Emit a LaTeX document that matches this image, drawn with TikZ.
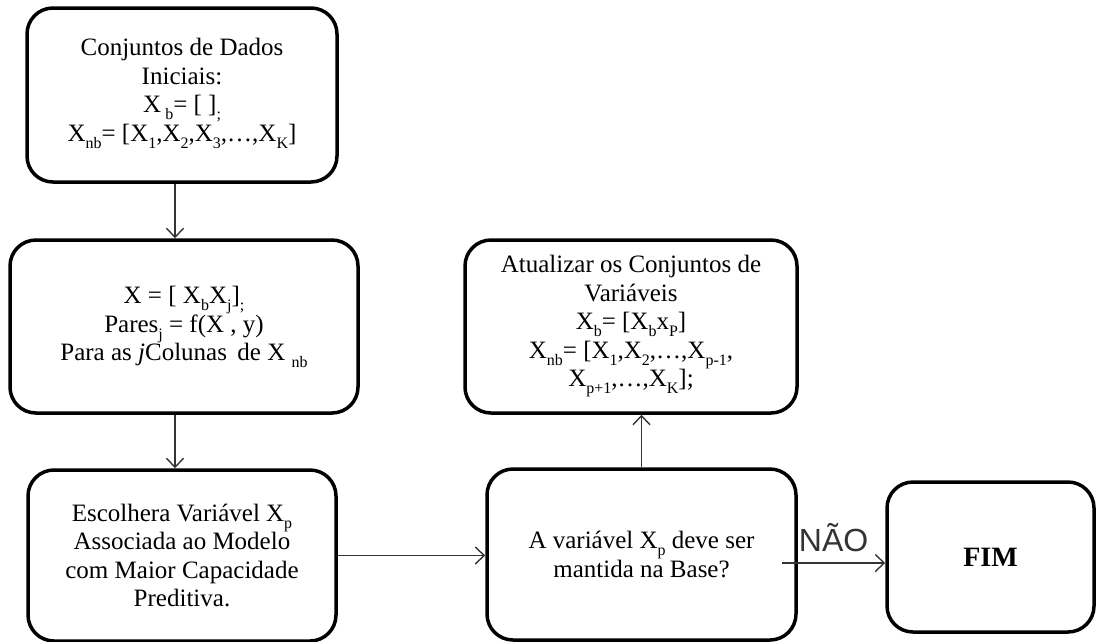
\documentclass[tikz,border=0pt]{standalone}
\usepackage{fontspec}
\setmainfont{Liberation Serif}
\newfontfamily\labelfont{Liberation Sans}
\usetikzlibrary{arrows.meta}

% lowered, smaller index text
\newcommand\sbs[1]{\raisebox{-0.28em}{\fontsize{16}{16}\selectfont #1}}

\tikzset{
  flowbox/.style={draw=black, line width=3.5pt, rounded corners=26pt,
    align=center, inner sep=0pt, font=\fontsize{25}{28.5}\selectfont},
  flowarrow/.style={draw=black!80, line width=1.4pt,
    -{Straight Barb[length=9pt,width=17pt,line width=1.4pt]}},
  answer/.style={font=\labelfont\fontsize{32}{32}\selectfont, text=black!80,
    inner sep=2pt}
}

\begin{document}
\begin{tikzpicture}[x=1pt,y=-1pt]
  \useasboundingbox (0,0) rectangle (1097,641);

  % left column
  \node[flowbox, minimum width=310pt, minimum height=174pt] (init) at (182,95)
    {Conjuntos de Dados\\Iniciais:\\X\,\sbs{b}= [ ]\sbs{;}\\
     X\sbs{nb}= [X\sbs{1},X\sbs{2},X\sbs{3},…,X\sbs{K}]\\[-18pt]\mbox{}};
  \node[flowbox, minimum width=348pt, minimum height=173pt] (pares) at (184,326.5)
    {\mbox{}\\[-10pt]X = [ X\sbs{b}X\sbs{j}]\sbs{;}\\Pares\sbs{j} = f(X , y)\\
     Para as \textit{j}Colunas\, de X \sbs{nb}};
  \node[flowbox, minimum width=308pt, minimum height=171pt] (choose) at (182,555.5)
    {Escolhera Variável X\sbs{p}\\Associada ao Modelo\\com Maior Capacidade\\Preditiva.};

  % right part
  \node[flowbox, minimum width=309pt, minimum height=171pt] (keep) at (641.5,554.5)
    {A variável X\sbs{p} deve ser\\mantida na Base?};
  \node[flowbox, minimum width=332pt, minimum height=173pt] (update) at (631,326.5)
    {Atualizar os Conjuntos de\\Variáveis\\X\sbs{b}= [X\sbs{b}x\sbs{P}]\\
     X\sbs{nb}= [X\sbs{1},X\sbs{2},…,X\sbs{p-1},\\X\sbs{p+1},…,X\sbs{K}];};
  \node[flowbox, minimum width=207pt, minimum height=150pt] (fim) at (990.5,557)
    {\fontsize{28}{28}\selectfont\textbf{FIM}};

  % connectors
  \coordinate (leftcol) at (175,0);
  \coordinate (nostart) at (782,563);
  \draw[flowarrow] (init.south -| leftcol) -- (pares.north -| leftcol);
  \draw[flowarrow] (pares.south -| leftcol) -- (choose.north -| leftcol);
  \draw[flowarrow] (choose.east) -- (choose.east -| keep.west);
  \draw[flowarrow] (keep.north) -- (keep.north |- update.south);
  \draw[flowarrow] (nostart) -- node[answer, above=9pt] {NÃO} (nostart -| fim.west);
\end{tikzpicture}
\end{document}
